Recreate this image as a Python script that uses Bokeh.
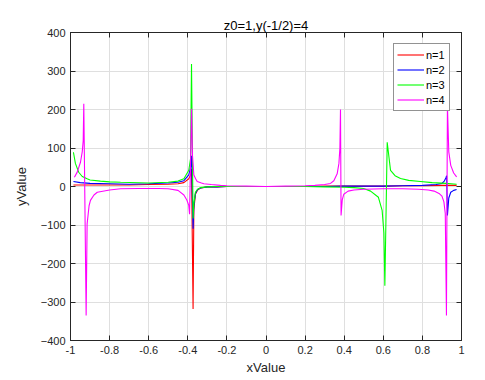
from bokeh.plotting import figure
from bokeh.models import FixedTicker, LinearAxis, Legend, LegendItem, CustomJSTickFormatter
from bokeh.embed import file_html
from bokeh.resources import INLINE

title_text = "z0=1,y(-1/2)=4"
series_names = ["n=1", "n=2", "n=3", "n=4"]
x_ticks = [-1, -0.8, -0.6, -0.4, -0.2, 0, 0.2, 0.4, 0.6, 0.8, 1]
x_tick_labels = ["-1", "-0.8", "-0.6", "-0.4", "-0.2", "0", "0.2", "0.4", "0.6", "0.8", "1"]
y_ticks = [-400, -300, -200, -100, 0, 100, 200, 300, 400]

x_n1 = [-0.985, -0.9, -0.8, -0.7, -0.6, -0.5, -0.45, -0.42, -0.395, -0.386, -0.381,
        -0.373, -0.369, -0.361, -0.35, -0.335, -0.3, -0.25, -0.2, -0.1, 0, 0.1, 0.2,
        0.3, 0.4, 0.5, 0.6, 0.7, 0.8, 0.9, 0.975]
y_n1 = [4, 4, 4, 4, 5, 6, 7, 10, 20, 30, 45,
        -318, -60, -20, -9, -4, -1, -1, 0, 0, 0, 0, 0,
        1, 1, 1, 1, 2, 2, 3, 3]

x_n2 = [-0.985, -0.95, -0.9, -0.8, -0.7, -0.6, -0.5, -0.45, -0.42, -0.395, -0.386, -0.381,
        -0.373, -0.369, -0.361, -0.35, -0.335, -0.3, -0.25, -0.2, -0.1, 0, 0.1, 0.2, 0.3,
        0.4, 0.5, 0.6, 0.7, 0.8, 0.87, 0.9, 0.912, 0.92, 0.924, 0.928, 0.935, 0.945,
        0.96, 0.975]
y_n2 = [13, 10, 8, 7, 6, 7, 9, 11, 15, 30, 50, 80,
        -110, -50, -18, -8, -4, -1, -1, 0, 0, 0, 0, 0, 0,
        1, 1, 1, 2, 3, 5, 8, 14, 22, 28, -75, -30, -15,
        -10, -8]

x_n3 = [-0.985, -0.975, -0.958, -0.94, -0.915, -0.9, -0.847, -0.8, -0.744, -0.6, -0.5,
        -0.45, -0.42, -0.395, -0.386, -0.381, -0.373, -0.369, -0.361, -0.35, -0.335,
        -0.3, -0.25, -0.2, -0.1, 0, 0.1, 0.2, 0.3, 0.4, 0.45, 0.5, 0.535, 0.575, 0.594,
        0.603, 0.608, 0.62, 0.637, 0.66, 0.688, 0.73, 0.79, 0.85, 0.92, 0.975]
y_n3 = [89, 60, 37, 26, 20, 17, 14, 12, 11, 9, 11,
        14, 20, 42, 72, 318, -83, -45, -15, -7, -3,
        -1, 0, 0, 0, 0, 0, 0, -1, -2, -3, -5, -12, -28, -62,
        -120, -258, 115, 42, 28, 21, 16, 13, 10, 8, 6]

x_n4 = [-0.98, -0.965, -0.949, -0.94, -0.935, -0.932, -0.92, -0.915, -0.905, -0.898,
        -0.88, -0.863, -0.8, -0.744, -0.65, -0.55, -0.5, -0.45, -0.42, -0.405, -0.395,
        -0.391, -0.381, -0.376, -0.369, -0.36, -0.352, -0.33, -0.318, -0.28, -0.233,
        -0.2, -0.1, 0, 0.1, 0.2, 0.25, 0.3, 0.33, 0.347, 0.364, 0.373, 0.378, 0.381,
        0.384, 0.39, 0.398, 0.42, 0.45, 0.5, 0.6, 0.7, 0.78, 0.83, 0.86, 0.885, 0.9,
        0.91, 0.917, 0.923, 0.928, 0.935, 0.945, 0.96, 0.975]
y_n4 = [24, 38, 63, 90, 119, 215, -335, -97, -50, -36,
        -22, -15, -9, -6, -5, -5, -6, -10, -22, -35, -49,
        -72, 202, 80, 30, 20, 13, 9, 7, 5, 3,
        2, 1, 0, 1, 2, 3, 5, 8, 15, 33, 60, 100, 200,
        -75, -35, -20, -12, -9, -7, -6, -6, -7, -9, -12, -18, -25,
        -40, -70, -335, 210, 90, 55, 35, 25]

colors = ["#FF0000", "#0000FF", "#00FF00", "#FF00FF"]
xs = [x_n1, x_n2, x_n3, x_n4]
ys = [y_n1, y_n2, y_n3, y_n4]

FONT = "Liberation Sans"
AX = "#262626"

p = figure(width=485, height=380, x_range=(-1, 1), y_range=(-400, 400),
           output_backend="svg", toolbar_location=None,
           min_border_left=70, min_border_right=24, min_border_top=32, min_border_bottom=40)
p.title.text = title_text
p.title.align = "center"
p.title.text_font = FONT
p.title.text_font_style = "normal"
p.title.text_font_size = "13px"
p.title.text_color = "#000000"
p.title.standoff = 0

p.outline_line_color = AX
p.outline_line_width = 1
p.background_fill_color = "#FFFFFF"
p.border_fill_color = "#FFFFFF"

p.xaxis.ticker = FixedTicker(ticks=x_ticks)
p.xaxis.major_label_overrides = dict(zip(x_ticks, x_tick_labels))
p.yaxis.ticker = FixedTicker(ticks=y_ticks)
p.xaxis.axis_label = "xValue"
p.yaxis.axis_label = "yValue"
for ax in (p.xaxis, p.yaxis):
    ax.axis_label_text_font = FONT
    ax.axis_label_text_font_style = "normal"
    ax.axis_label_text_font_size = "13px"
    ax.axis_label_text_color = AX
    ax.major_label_text_font = FONT
    ax.major_label_text_font_size = "11px"
    ax.major_label_text_color = AX
    ax.major_tick_in = 5
    ax.major_tick_out = 0
    ax.minor_tick_in = 0
    ax.minor_tick_out = 0
    ax.axis_line_color = AX
    ax.major_tick_line_color = AX
    ax.major_label_standoff = 5
p.xaxis.axis_label_standoff = 3
p.yaxis.axis_label_standoff = 9
p.xgrid.ticker = FixedTicker(ticks=x_ticks)
p.ygrid.ticker = FixedTicker(ticks=y_ticks)
p.grid.grid_line_color = "#DFDFDF"
p.grid.grid_line_width = 1

blank = CustomJSTickFormatter(code="return ''")
top_ax = LinearAxis(ticker=FixedTicker(ticks=x_ticks), formatter=blank,
                    major_label_standoff=0, major_tick_in=5, major_tick_out=0,
                    minor_tick_in=0, minor_tick_out=0, axis_line_color=AX,
                    major_tick_line_color=AX)
right_ax = LinearAxis(ticker=FixedTicker(ticks=y_ticks), formatter=blank,
                      major_label_standoff=0, major_tick_in=5, major_tick_out=0,
                      minor_tick_in=0, minor_tick_out=0, axis_line_color=AX,
                      major_tick_line_color=AX)
p.add_layout(top_ax, "above")
p.add_layout(right_ax, "right")

items = []
for name, c, x, y in zip(series_names, colors, xs, ys):
    r = p.line(x, y, line_color=c, line_width=1.1)
    items.append(LegendItem(label=name, renderers=[r]))

legend = Legend(items=items, location="top_right")
legend.label_text_font = FONT
legend.label_text_font_size = "11px"
legend.label_text_color = "#000000"
legend.glyph_width = 27
legend.glyph_height = 15
legend.label_height = 15
legend.spacing = 0
legend.padding = 3
legend.margin = 11
legend.label_standoff = 2
legend.border_line_color = AX
legend.border_line_width = 1
legend.background_fill_color = "#FFFFFF"
legend.background_fill_alpha = 1
p.add_layout(legend, "center")

open("out.html", "w").write(file_html(p, INLINE))
